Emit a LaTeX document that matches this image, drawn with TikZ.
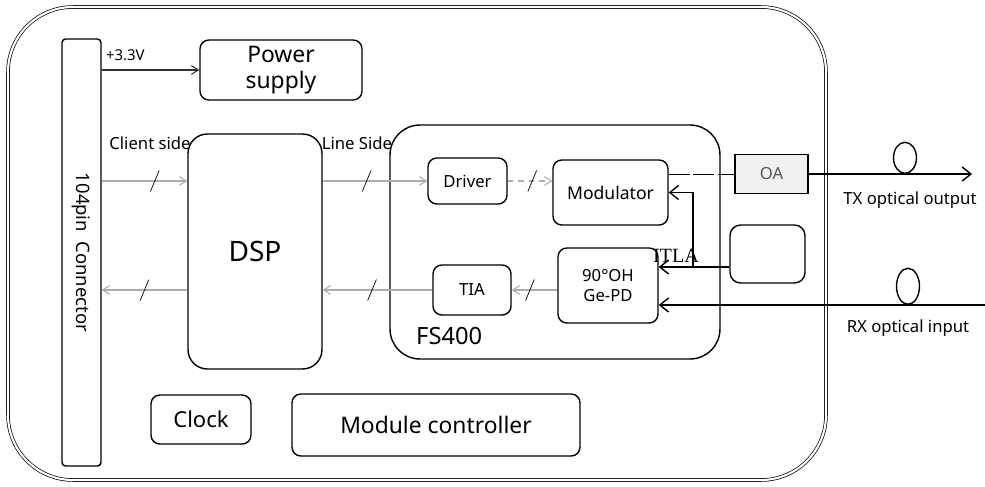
\documentclass[tikz,border=0pt]{standalone}
\usepackage{fontspec}
\setmainfont{Noto Sans}
\newfontfamily\itlafont{Liberation Serif}
\usetikzlibrary{shapes.geometric, arrows.meta, decorations.markings}
\tikzstyle{shell} = [
    draw=black,
    double,
    double distance=1.2pt,
    rounded corners=1.3cm
]
\tikzstyle{block} = [
    rectangle,
    rounded corners=5pt,
    inner sep=0pt,
    draw=black,
    thick
]
\tikzstyle{label} = [
    inner sep=1pt,
    font=\fontsize{9.5}{11}\selectfont
]
\tikzstyle{bus} = [
    gray!65,
    line width=0.6pt,
    -{Straight Barb[length=4pt, width=5pt, open]}
]
\tikzstyle{arrow} = [
    black,
    -{Straight Barb[length=5pt, width=8pt]}
]
\tikzstyle{slashmark} = [
    postaction={decorate},
    decoration={markings, mark=at position #1 with {\draw [black, solid, thin, -] (-2.5pt,-6pt) -- (2.5pt,6pt);}}
]

\begin{document}
\begin{tikzpicture}[x=0.02cm, y=-0.02cm]
\useasboundingbox (0,0) rectangle (985,487);

\draw [shell] (8,7) rectangle (826,480);

\node (conn) [block, rounded corners=2pt, minimum width=0.78cm, minimum height=8.54cm] at (81.5,252.5) {};
\node (connlabel) [label, rotate=-90, font=\fontsize{10.5}{12}\selectfont] at (conn.center) {104pin\ \ Connector};

\node (power) [block, minimum width=3.24cm, minimum height=1.2cm, align=center, font=\fontsize{13}{15}\selectfont] at (281,70) {Power\\supply};
\node (dsp) [block, rounded corners=11pt, minimum width=2.68cm, minimum height=4.7cm, font=\fontsize{16}{18}\selectfont] at (255,251.5) {DSP};
\node (fs) [block, rounded corners=17pt, minimum width=6.6cm, minimum height=4.68cm] at (555,242) {};
\node (fslabel) [anchor=west, font=\fontsize{13.5}{15}\selectfont] at (410,336) {FS400};

\node (driver) [block, minimum width=1.58cm, minimum height=0.92cm, label] at (467.5,181) {Driver};
\node (mod) [block, minimum width=2.3cm, minimum height=1.3cm, label, font=\fontsize{10}{12}\selectfont] at (610.5,192.5) {Modulator};
\node (tia) [block, minimum width=1.56cm, minimum height=1.0cm, label] at (472,290) {TIA};
\node (gepd) [block, minimum width=2.0cm, minimum height=1.5cm, label, align=center] at (608,285.5) {90°OH\\Ge-PD};

\node (oa) [rectangle, draw=black, thick, fill=gray!12, minimum width=1.46cm, minimum height=0.78cm, label, text=gray!70!black] at (771.5,174) {OA};
\node (itla) [block, rounded corners=6pt, minimum width=1.5cm, minimum height=1.16cm] at (767.5,254) {};
\node (itlalabel) [font=\itlafont\fontsize{11.5}{13}\selectfont, inner sep=0pt] at (676,256) {ITLA};

\node (clock) [block, minimum width=2.0cm, minimum height=0.98cm, font=\fontsize{12.5}{14}\selectfont] at (201,419.5) {Clock};
\node (ctrl) [block, minimum width=5.76cm, minimum height=1.24cm, font=\fontsize{13}{15}\selectfont] at (436,425) {Module controller};

\node (volt) [label, anchor=west, font=\fontsize{8.5}{10}\selectfont] at (104,55) {+3.3V};
\node (client) [label] at (150,143) {Client side};
\node (line) [label] at (357,143) {Line Side};

\coordinate (txend) at (972,174);
\coordinate (rxstart) at (985,305);
\coordinate (lo) at (693,267);

\node (txloop) [ellipse, draw=black, thick, minimum width=0.46cm, minimum height=0.62cm, anchor=south, inner sep=0pt] at (905,174) {};
\node (rxloop) [ellipse, draw=black, thick, minimum width=0.46cm, minimum height=0.72cm, anchor=south, inner sep=0pt] at (908,305) {};
\node (txlabel) [label] at (910,200) {TX optical output};
\node (rxlabel) [label] at (908,328) {RX optical input};

\draw [bus, black!80] (conn.east |- power) -- (power.west);
\draw [bus, slashmark=0.62] (conn.east |- driver) -- (dsp.west |- driver);
\draw [bus, slashmark=0.42] (dsp.east |- driver) -- (driver.west);
\draw [bus, dashed, slashmark=0.55] (driver.east) -- (mod.west |- driver);
\draw [black, dash pattern=on 12pt off 2pt] (mod.east |- oa) -- (oa.west);
\draw [arrow, thick] (oa.east) -- (txend);
\draw [arrow, thick] (rxstart) -- (gepd.east |- rxstart);
\draw [arrow, thick] (itla.west |- lo) -- (gepd.east |- lo);
\draw [arrow, thick] (lo) |- (mod.east);
\draw [bus, slashmark=0.6] (gepd.west |- tia) -- (tia.east);
\draw [bus, slashmark=0.55] (tia.west) -- (dsp.east |- tia);
\draw [bus, slashmark=0.5] (dsp.west |- tia) -- (conn.east |- tia);

\end{tikzpicture}
\end{document}
